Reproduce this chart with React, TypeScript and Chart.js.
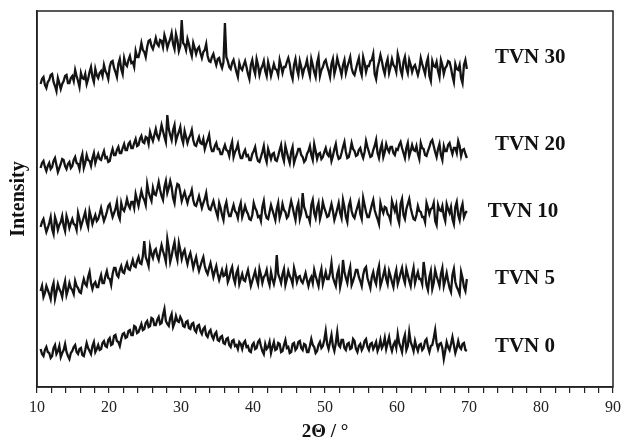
import React, { useEffect, useRef } from "react";
import { Chart, registerables } from "chart.js";

Chart.register(...registerables);

// 2θ sampling grid (degrees)
const START_2THETA = 10.5;
const STEP_2THETA = 0.2;

const seriesNames = ["TVN 0", "TVN 5", "TVN 10", "TVN 20", "TVN 30"];

const tvn0 = [
  38, 33, 31, 37, 40, 35, 34, 29, 31, 39, 42, 33, 36, 41, 30, 34, 37, 43, 35, 31,
  28, 34, 36, 40, 42, 35, 33, 38, 39, 32, 31, 37, 44, 39, 36, 33, 41, 45, 35, 38,
  42, 37, 38, 44, 46, 41, 40, 47, 49, 42, 43, 51, 52, 46, 45, 41, 48, 53, 54, 49,
  50, 56, 57, 52, 52, 61, 60, 54, 55, 59, 63, 57, 58, 64, 66, 60, 61, 69, 68, 62,
  62, 67, 70, 63, 64, 72, 78, 66, 63, 61, 69, 73, 60, 64, 71, 66, 65, 70, 67, 61,
  60, 65, 66, 59, 58, 63, 64, 57, 55, 61, 62, 56, 53, 58, 60, 52, 50, 55, 57, 51,
  48, 53, 55, 47, 46, 50, 51, 44, 43, 48, 49, 42, 40, 46, 47, 41, 42, 38, 45, 43,
  38, 44, 46, 40, 41, 36, 35, 42, 44, 38, 39, 45, 47, 41, 36, 33, 43, 38, 40, 45,
  34, 40, 45, 37, 38, 44, 43, 35, 36, 42, 47, 39, 40, 34, 35, 43, 44, 37, 39, 45,
  46, 39, 37, 43, 42, 35, 35, 41, 48, 42, 40, 34, 36, 42, 45, 39, 41, 47, 56, 43,
  38, 45, 52, 41, 36, 44, 55, 42, 40, 47, 47, 39, 37, 43, 44, 38, 39, 48, 46, 38,
  35, 41, 43, 37, 40, 46, 48, 40, 37, 43, 44, 38, 41, 45, 36, 40, 47, 39, 42, 49,
  38, 44, 50, 41, 36, 42, 45, 39, 53, 44, 40, 35, 47, 52, 37, 41, 55, 45, 41, 36,
  46, 40, 36, 42, 43, 37, 39, 46, 48, 40, 35, 41, 42, 49, 57, 44, 38, 43, 44, 39,
  28, 36, 45, 40, 37, 43, 50, 42, 34, 39, 46, 40, 38, 43, 44, 37, 36,
];

const tvn5 = [
  96, 101, 90, 94, 101, 97, 93, 88, 99, 104, 88, 95, 103, 98, 95, 90, 100, 106, 92, 97,
  104, 99, 97, 93, 106, 101, 99, 95, 94, 102, 108, 103, 101, 110, 115, 104, 98, 103, 105, 100,
  100, 107, 112, 104, 104, 111, 116, 109, 108, 102, 113, 119, 119, 112, 110, 117, 121, 115, 114, 120,
  124, 118, 117, 122, 127, 121, 120, 126, 130, 124, 123, 131, 146, 130, 126, 121, 140, 133, 129, 136,
  138, 131, 127, 135, 142, 136, 131, 125, 148, 139, 125, 131, 139, 145, 133, 127, 144, 137, 128, 134,
  137, 129, 123, 130, 134, 127, 119, 125, 130, 122, 116, 121, 126, 130, 121, 116, 113, 119, 124, 117,
  110, 116, 121, 113, 107, 112, 117, 111, 112, 118, 105, 109, 116, 120, 109, 104, 114, 118, 103, 108,
  113, 107, 106, 112, 117, 109, 101, 106, 111, 116, 108, 103, 118, 112, 104, 110, 112, 117, 107, 102,
  115, 108, 103, 110, 132, 113, 109, 104, 113, 118, 102, 108, 116, 111, 108, 103, 119, 113, 105, 110,
  111, 106, 104, 109, 114, 107, 101, 107, 110, 104, 117, 111, 106, 101, 112, 118, 103, 109, 115, 108,
  108, 114, 124, 110, 105, 101, 113, 118, 100, 107, 127, 115, 109, 104, 114, 120, 102, 106, 111, 117,
  117, 110, 106, 101, 112, 118, 120, 109, 104, 99, 110, 115, 107, 103, 115, 121, 101, 106, 112, 118,
  108, 103, 116, 111, 105, 100, 111, 117, 103, 108, 114, 119, 109, 104, 118, 112, 106, 101, 112, 119,
  104, 110, 115, 108, 108, 103, 125, 114, 102, 97, 110, 116, 98, 104, 117, 111, 106, 101, 113, 119,
  101, 107, 114, 106, 99, 95, 112, 118, 105, 100, 97, 93, 115, 109, 100, 96, 108,
];

const tvn10 = [
  160, 165, 168, 161, 155, 159, 164, 170, 158, 153, 170, 165, 157, 162, 165, 171, 161, 156, 171, 166,
  159, 164, 168, 163, 162, 157, 174, 168, 160, 165, 170, 175, 165, 160, 176, 170, 163, 168, 172, 166,
  168, 173, 179, 172, 166, 170, 175, 181, 183, 176, 170, 174, 178, 185, 172, 168, 184, 178, 176, 181,
  188, 182, 179, 185, 185, 179, 193, 187, 181, 189, 196, 190, 187, 182, 203, 195, 190, 186, 199, 193,
  192, 198, 205, 197, 191, 187, 200, 206, 194, 199, 206, 200, 189, 184, 197, 203, 202, 195, 186, 191,
  195, 189, 184, 190, 192, 197, 187, 182, 181, 186, 191, 185, 179, 184, 188, 194, 183, 178, 177, 182,
  186, 180, 175, 170, 184, 179, 172, 167, 180, 185, 176, 171, 171, 177, 182, 176, 174, 169, 179, 184,
  170, 175, 181, 176, 173, 168, 167, 172, 184, 179, 176, 170, 171, 166, 180, 186, 174, 169, 168, 175,
  182, 177, 172, 167, 178, 184, 169, 174, 183, 177, 175, 169, 171, 179, 186, 180, 173, 167, 179, 184,
  168, 174, 194, 180, 176, 170, 170, 165, 182, 187, 174, 169, 179, 184, 168, 174, 185, 179, 175, 170,
  171, 177, 183, 176, 167, 172, 178, 184, 174, 169, 187, 180, 170, 165, 181, 186, 176, 171, 169, 175,
  180, 185, 173, 168, 189, 182, 175, 170, 170, 176, 182, 187, 177, 172, 168, 163, 184, 178, 174, 180,
  179, 173, 171, 166, 186, 181, 176, 182, 169, 164, 183, 188, 172, 168, 178, 183, 188, 179, 173, 168,
  167, 172, 181, 176, 175, 170, 170, 165, 184, 179, 173, 178, 179, 184, 166, 162, 182, 177, 176, 181,
  171, 166, 183, 178, 174, 180, 168, 163, 180, 185, 172, 167, 178, 183, 170, 174, 176,
];

const tvn20 = [
  219, 224, 226, 220, 216, 221, 224, 218, 220, 226, 229, 222, 215, 219, 223, 228, 227, 221, 218, 223,
  225, 219, 221, 227, 230, 224, 223, 218, 228, 233, 219, 224, 232, 227, 226, 221, 229, 234, 224, 229,
  233, 228, 227, 232, 236, 229, 230, 225, 226, 233, 238, 232, 232, 237, 240, 234, 234, 239, 243, 237,
  237, 243, 245, 239, 239, 244, 248, 241, 242, 248, 251, 245, 244, 250, 249, 243, 255, 250, 246, 252,
  258, 251, 248, 254, 262, 256, 250, 245, 272, 258, 252, 247, 257, 262, 246, 251, 255, 260, 249, 244,
  256, 250, 244, 249, 252, 257, 247, 242, 241, 246, 250, 244, 243, 248, 238, 243, 247, 252, 241, 236,
  236, 241, 244, 238, 238, 233, 233, 238, 242, 237, 236, 231, 240, 245, 230, 235, 238, 243, 234, 229,
  229, 234, 237, 231, 232, 227, 227, 233, 236, 240, 231, 226, 225, 230, 235, 241, 230, 225, 238, 233,
  228, 233, 234, 227, 226, 231, 237, 242, 231, 226, 241, 235, 229, 224, 235, 240, 224, 229, 233, 238,
  238, 232, 230, 225, 227, 233, 236, 241, 232, 227, 243, 236, 228, 233, 234, 228, 230, 235, 239, 233,
  231, 236, 226, 231, 238, 243, 233, 228, 229, 234, 240, 245, 235, 229, 230, 236, 244, 238, 236, 231,
  232, 237, 239, 233, 229, 235, 246, 240, 235, 230, 231, 237, 241, 247, 234, 229, 238, 243, 230, 235,
  243, 238, 235, 240, 240, 234, 232, 238, 237, 242, 245, 239, 234, 229, 239, 244, 231, 236, 242, 237,
  236, 241, 233, 228, 244, 239, 238, 232, 231, 236, 240, 245, 247, 241, 235, 230, 238, 243, 232, 227,
  241, 236, 236, 242, 244, 238, 233, 239, 239, 234, 246, 241, 231, 237, 238, 233, 229,
];

const tvn30 = [
  303, 308, 310, 302, 299, 305, 307, 312, 313, 305, 301, 296, 309, 304, 298, 303, 306, 311, 312, 304,
  304, 309, 311, 306, 317, 311, 306, 300, 314, 309, 308, 313, 303, 308, 315, 320, 310, 305, 318, 312,
  309, 314, 316, 311, 322, 316, 313, 308, 320, 325, 326, 319, 315, 310, 323, 328, 318, 313, 329, 323,
  321, 327, 331, 324, 325, 320, 336, 330, 330, 336, 344, 337, 335, 330, 340, 346, 347, 341, 338, 343,
  349, 343, 341, 347, 346, 340, 352, 347, 339, 344, 348, 354, 343, 338, 353, 347, 336, 341, 367, 344,
  342, 337, 348, 343, 336, 331, 344, 339, 333, 338, 340, 334, 329, 335, 337, 343, 331, 326, 325, 330,
  333, 327, 322, 328, 329, 323, 319, 325, 364, 330, 326, 320, 318, 324, 327, 321, 315, 310, 324, 319,
  317, 322, 326, 320, 313, 308, 322, 327, 318, 313, 328, 322, 312, 318, 321, 326, 316, 311, 325, 319,
  311, 317, 323, 318, 317, 312, 327, 321, 314, 320, 320, 325, 329, 323, 313, 308, 322, 328, 318, 312,
  326, 320, 312, 318, 321, 327, 317, 311, 328, 322, 315, 310, 324, 330, 311, 317, 320, 325, 327, 321,
  316, 310, 323, 328, 313, 319, 329, 323, 318, 312, 322, 327, 314, 320, 325, 330, 319, 314, 312, 318,
  324, 329, 317, 312, 330, 324, 315, 321, 321, 326, 327, 333, 313, 308, 319, 325, 332, 326, 318, 313,
  323, 328, 314, 320, 328, 322, 320, 315, 333, 327, 317, 312, 325, 330, 319, 314, 327, 322, 315, 320,
  322, 317, 312, 318, 329, 323, 318, 313, 324, 329, 311, 306, 326, 321, 320, 325, 316, 310, 327, 322,
  313, 319, 321, 326, 325, 319, 311, 305, 323, 318, 317, 322, 309, 304, 322, 327, 318,
];

const allSeries = [tvn0, tvn5, tvn10, tvn20, tvn30];

// label anchor (in data units) for each series name
const labelAnchorX = [73.6, 73.6, 72.6, 73.6, 73.6];
const labelAnchorY = [40, 108, 175, 242, 329];

const X_MIN = 10;
const X_MAX = 90;
const Y_MIN = 0;
const Y_MAX = 376;

const SERIF = '"Liberation Serif", "Times New Roman", serif';

export default function App() {
  const ref = useRef<HTMLCanvasElement | null>(null);

  useEffect(() => {
    if (!ref.current) return;
    const datasets = allSeries.map((vals, k) => ({
      label: seriesNames[k],
      data: vals.map((v, i) => ({ x: START_2THETA + i * STEP_2THETA, y: v })),
      borderColor: "#141414",
      borderWidth: 2.3,
      borderJoinStyle: "miter" as const,
      pointRadius: 0,
      tension: 0,
      fill: false,
    }));

    const framePlugin = {
      id: "frameAndLabels",
      afterDraw(chart: any) {
        const { ctx, chartArea, scales } = chart;
        ctx.save();
        ctx.strokeStyle = "#222";
        ctx.lineWidth = 1.5;
        ctx.strokeRect(
          chartArea.left,
          chartArea.top,
          chartArea.right - chartArea.left,
          chartArea.bottom - chartArea.top
        );
        ctx.fillStyle = "#111";
        ctx.font = `bold 21px ${SERIF}`;
        ctx.textAlign = "left";
        ctx.textBaseline = "middle";
        seriesNames.forEach((name, k) => {
          const px = scales.x.getPixelForValue(labelAnchorX[k]);
          const py = scales.y.getPixelForValue(labelAnchorY[k]);
          ctx.fillText(name, px, py);
        });
        ctx.restore();
      },
    };

    const chart = new Chart(ref.current, {
      type: "line",
      data: { datasets },
      options: {
        animation: false,
        responsive: false,
        maintainAspectRatio: false,
        layout: { padding: { left: 0, right: 9, top: 11, bottom: 0 } },
        plugins: {
          legend: { display: false },
          tooltip: { enabled: false },
        },
        scales: {
          x: {
            type: "linear",
            min: X_MIN,
            max: X_MAX,
            afterFit: (s: any) => {
              s.height = 55;
              s.paddingLeft = 0;
              s.paddingRight = 0;
            },
            ticks: {
              stepSize: 2,
              autoSkip: false,
              maxRotation: 0,
              color: "#222",
              padding: 5,
              font: { family: SERIF, size: 16 },
              callback: (v: any) => (Number(v) % 10 === 0 ? String(v) : ""),
            },
            grid: {
              display: true,
              drawOnChartArea: false,
              drawTicks: true,
              tickLength: 6,
              color: "#222",
              lineWidth: 1.2,
            },
            border: { display: true, color: "#222", width: 1.5 },
            title: {
              display: true,
              text: "2Θ / °",
              color: "#111",
              font: { family: SERIF, size: 19, weight: "bold", lineHeight: 1 },
              padding: { top: 0, bottom: 0 },
            },
          },
          y: {
            type: "linear",
            min: Y_MIN,
            max: Y_MAX,
            afterFit: (s: any) => {
              s.width = 37;
            },
            ticks: { display: false },
            grid: { display: false, drawTicks: false },
            border: { display: true, color: "#222", width: 1.5 },
            title: {
              display: true,
              text: "Intensity",
              color: "#111",
              font: { family: SERIF, size: 20, weight: "bold", lineHeight: 1.2 },
              padding: { top: 7, bottom: 0 },
            },
          },
        },
      },
      plugins: [framePlugin],
    });
    return () => chart.destroy();
  }, []);

  return (
    <div style={{ position: "fixed", left: 0, top: 0, width: 622, height: 442, background: "#fff" }}>
      <canvas ref={ref} width={622} height={442} />
    </div>
  );
}
